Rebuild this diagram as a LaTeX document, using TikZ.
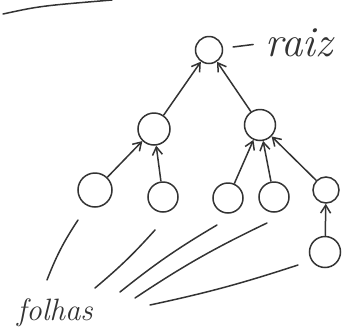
\documentclass[tikz,border=0pt]{standalone}
\usetikzlibrary{arrows.meta}
\begin{document}
\begin{tikzpicture}[x=1bp, y=-1bp, line width=1.5bp, color=black!80,
  no/.style={circle, draw=black!80, minimum size=#1, inner sep=0pt},
  no/.default=32bp,
  rotulo/.style={font=\fontsize{#1}{#1}\selectfont\itshape, inner sep=0pt},
  aresta/.style={-{Straight Barb[length=8bp, width=10bp]}},
  aponta/.style={line cap=round}]
  \useasboundingbox (0,0) rectangle (344,336);
  \draw[aponta] (3,14) .. controls (40,6) .. (112,0);
  \node[no=27bp] (raiz) at (209,50) {};
  \node[no] (esq) at (154,129) {};
  \node[no=31bp] (dir) at (260,125) {};
  \node[no=34bp] (f1) at (95,190) {};
  \node[no=30bp] (f2) at (163,197) {};
  \node[no=30bp] (f3) at (228,198) {};
  \node[no=30bp] (f4) at (274,197) {};
  \node[no=26bp] (neto) at (326,190) {};
  \node[no=31bp] (f5) at (325,252) {};
  \draw[aresta] (esq) -- (raiz);
  \draw[aresta] (dir) -- (raiz);
  \draw[aresta] (f1) -- (esq);
  \draw[aresta] (f2) -- (esq);
  \draw[aresta] (f3) -- (dir);
  \draw[aresta] (f4) -- (dir);
  \draw[aresta] (neto) -- (dir);
  \draw[aresta] (f5) -- (neto);
  \node[rotulo=43, anchor=west] (rraiz) at (265,43) {raiz};
  \draw[aponta, shorten <=10bp, shorten >=12bp] (raiz) -- (rraiz.west);
  \node[rotulo=31] (folhas) at (55,313) {folhas};
  \coordinate (p1) at (47,280);  \coordinate (q1) at (78,220);
  \coordinate (p2) at (95,288);  \coordinate (q2) at (155,230);
  \coordinate (p3) at (120,292); \coordinate (q3) at (217,225);
  \coordinate (p4) at (135,298); \coordinate (q4) at (267,223);
  \coordinate (p5) at (150,305); \coordinate (q5) at (298,265);
  \draw[aponta] (p1) to[bend left=6] (q1);
  \draw[aponta] (p2) to[bend right=4] (q2);
  \draw[aponta] (p3) to[bend left=4] (q3);
  \draw[aponta] (p4) to[bend left=4] (q4);
  \draw[aponta] (p5) to[bend right=3] (q5);
\end{tikzpicture}
\end{document}
